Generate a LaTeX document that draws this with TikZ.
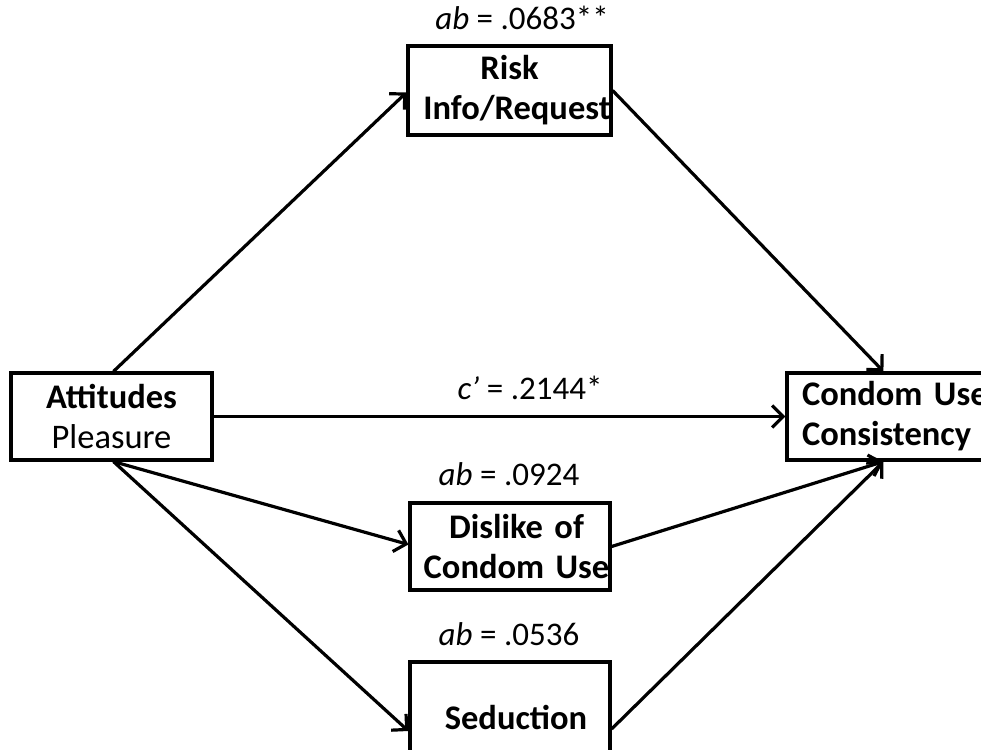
\documentclass[tikz,border=0pt]{standalone}
\usepackage{fontspec}
\setmainfont{Carlito}
\usetikzlibrary{arrows.meta}
\begin{document}
\begin{tikzpicture}[x=1pt,y=-1pt,
  box/.style={draw, line width=3.2pt, inner sep=0pt, align=center,
    font=\fontsize{34.5}{40}\selectfont},
  conn/.style={line width=3.2pt, -{Straight Barb[length=11pt,width=22pt,line width=3.2pt]}},
  lbl/.style={font=\fontsize{33}{38}\selectfont, inner sep=0pt}]
\useasboundingbox (0,0) rectangle (981,749);
\clip (0,0) rectangle (981,749);
\node[box, minimum width=203pt, minimum height=89pt, text width=203pt] (risk) at (509.5,90.5) {\textbf{Risk}\\\hspace*{15pt}\textbf{Info/Request}};
\node[box, minimum width=201pt, minimum height=87pt, text width=201pt] (att) at (111.5,416.5) {\textbf{Attitudes}\\Pleasure};
\node[box, minimum width=230pt, minimum height=87pt, text width=200pt, inner xsep=15pt, align=left] (cond) at (902,416.5) {\textbf{Condom Use}\\\textbf{Consistency}};
\node[box, minimum width=200pt, minimum height=87pt, text width=200pt] (dis) at (510,546.5) {\hspace*{13pt}\textbf{Dislike of}\\\hspace*{13pt}\textbf{Condom Use}};
\node[box, minimum width=200pt, minimum height=110pt, text width=200pt] (sed) at (510,717) {\hspace*{12pt}\textbf{Seduction}};
\node[lbl] (l1) at (522,18) {\textit{ab} = .0683**};
\node[lbl] (l2) at (530,388) {\textit{c’} = .2144*};
\node[lbl] (l3) at (509,474) {\textit{ab} = .0924};
\node[lbl] (l4) at (509,634) {\textit{ab} = .0536};
\coordinate (ctop) at ([xshift=98pt]cond.north west);
\coordinate (cbot) at ([xshift=98pt]cond.south west);
\coordinate (abot) at ([xshift=2pt]att.south);
\draw[conn] ([xshift=2pt]att.north) -- ([yshift=-2pt]risk.west);
\draw[conn] (risk.east) -- (ctop);
\draw[conn] (att.east) -- (cond.west);
\draw[conn] (abot) -- ([yshift=2pt]dis.west);
\draw[conn] (abot) -- ([yshift=-14pt]sed.west);
\draw[conn] (dis.east) -- (cbot);
\draw[conn] ([yshift=-12pt]sed.east) -- (cbot);
\end{tikzpicture}
\end{document}
